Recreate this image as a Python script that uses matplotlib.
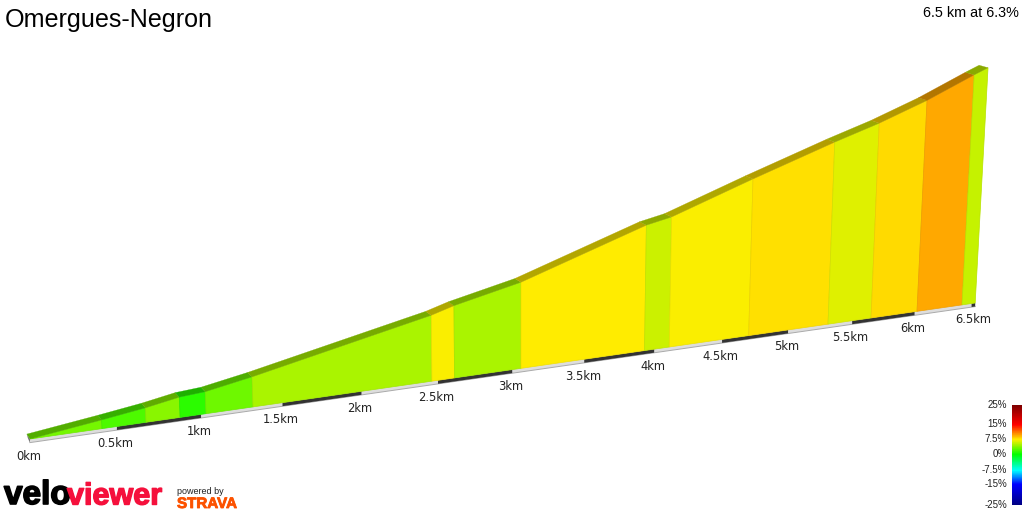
import numpy as np
import matplotlib
matplotlib.use("Agg")
import matplotlib.pyplot as plt
import matplotlib.patheffects as pe
from matplotlib.colors import LinearSegmentedColormap, Normalize
from matplotlib.patches import Polygon

title = "Omergues-Negron"
summary = "6.5 km at 6.3%"
km_edges = [0, .413, .671, .874, 1.03, 1.317, 2.46, 2.61, 3.06, 3.93, 4.11, 4.70, 5.31, 5.65, 6.02, 6.39, 6.5]
elev_m = [0, 15, 25, 35, 38, 52, 114, 125, 149, 217, 225, 271, 315, 337, 365, 398, 407]
grades = [3.4, 2.2, 4.0, 1.2, 3.3, 5.0, 7.3, 5.0, 7.55, 5.9, 7.4, 7.95, 6.5, 8.2, 9.6, 5.8]
km_ticks = [0, .5, 1, 1.5, 2, 2.5, 3, 3.5, 4, 4.5, 5, 5.5, 6, 6.5]
km_labels = ["0km", "0.5km", "1km", "1.5km", "2km", "2.5km", "3km", "3.5km", "4km", "4.5km", "5km", "5.5km", "6km", "6.5km"]
scale_vals = [25, 15, 7.5, 0, -7.5, -15, -25]
scale_labels = ["25%", "15%", "7.5%", "0%", "-7.5%", "-15%", "-25%"]
scale_cols = ["#800000", "#ff0000", "#ffee00", "#00ff00", "#00ffff", "#0000ff", "#000080"]

PX_PER_M = 0.578
def base(d):
    d = np.asarray(d, float)
    x = 30 + 176.7 * d / (1 + .0331 * d)
    return x, 439 - (x - 30) * .1439
def project(d, h):
    x, y = base(d)
    hp = np.asarray(h, float) * PX_PER_M
    return x + 1.2e-4 * hp * (x - 520), y - hp
def back(x, y):
    t = np.asarray(x) / 1000
    return x - 3 - 6 * t, y - 5 + 2.5 * t

order = np.argsort(scale_vals)
sv = np.array(scale_vals)[order]
cmap = LinearSegmentedColormap.from_list("g", [((v + 25) / 50, c) for v, c in zip(sv, np.array(scale_cols)[order])])
norm = Normalize(-25, 25)

fig = plt.figure(figsize=(10.24, 5.12), dpi=100)
ax = fig.add_axes([0, 0, 1, 1])
ax.set_axis_off()

xb, yb = base(km_edges)
xt, yt = project(km_edges, elev_m)
xk, yk = back(xt, yt)

# end cap
ax.add_patch(Polygon([(xk[0], yk[0]), (xt[0], yt[0]), (xb[0], yb[0] + 4), (xk[0] + 1, yk[0] + 4)], fc="#777777", ec="none", zorder=1))

# base strip with alternating dark half-km bands
bx, by = base(np.array(km_edges)[[0, -1]])
ax.add_patch(Polygon([(bx[0], by[0]), (bx[1], by[1]), (bx[1], by[1] + 3.5), (bx[0], by[0] + 3.5)], fc="#dddddd", ec="none", zorder=1))
ax.plot(bx, by + 3.6, color="#aaaaaa", lw=.7, zorder=1)
for a, b in zip(km_ticks[1::2], km_ticks[2::2]):
    x, y = base([a, b])
    ax.add_patch(Polygon([(x[0], y[0]), (x[1], y[1]), (x[1], y[1] + 3.5), (x[0], y[0] + 3.5)], fc="#333333", ec="none", zorder=2))
x, y = base([6.47, 6.5])
ax.add_patch(Polygon([(x[0], y[0]), (x[1], y[1]), (x[1], y[1] + 3.5), (x[0], y[0] + 3.5)], fc="#333333", ec="none", zorder=2))

for i, g in enumerate(grades):
    c = np.array(cmap(norm(g))[:3])
    ax.add_patch(Polygon([(xb[i], yb[i]), (xb[i + 1], yb[i + 1]), (xt[i + 1], yt[i + 1]), (xt[i], yt[i])],
                         fc=c, ec=c * .93, lw=.5, zorder=3))
    ax.add_patch(Polygon([(xt[i], yt[i]), (xt[i + 1], yt[i + 1]), (xk[i + 1], yk[i + 1]), (xk[i], yk[i])],
                         fc=c * .7, ec=c * .7, lw=.2, zorder=3))

kx, ky = base(km_ticks)
for x, y, s in zip(kx, ky, km_labels):
    ax.text(x - 1.5, y + 17, s, ha="center", va="center", fontsize=8.3, family="DejaVu Sans", color="#222222")

sans = "Liberation Sans"
ax.text(5, 20, title, ha="left", va="center", fontsize=18.1, family=sans, color="black")
ax.text(1019, 13, summary, ha="right", va="center", fontsize=10.4, family=sans, color="black")

# colour scale
tick_y = [405, 424, 439, 454, 470, 484, 505]
ys = np.arange(405, 505)
ramp = np.interp(ys, tick_y, scale_vals)[:, None]
ax.imshow(ramp, cmap=cmap, norm=norm, extent=(1012, 1022, 505, 405), aspect="auto", zorder=3, interpolation="nearest")
for y, s in zip(tick_y, scale_labels):
    ax.text(1007, y, s, ha="right", va="center", fontsize=7, family=sans, color="#222222")

ax.text(4, 504, "velo", ha="left", va="baseline", fontsize=24, family=sans, weight="bold", color="black",
        path_effects=[pe.withStroke(linewidth=1.2, foreground="k")])
ax.text(67, 504.5, "viewer", ha="left", va="baseline", fontsize=22, family=sans, weight="bold", color="#f5103c",
        path_effects=[pe.withStroke(linewidth=1, foreground="#f5103c")])
ax.text(177, 492, "powered by", ha="left", va="center", fontsize=6.5, family=sans, color="#222222")
ax.text(177, 504, "STRAVA", ha="left", va="center", fontsize=10.9, family=sans, weight="bold", color="#fc5200",
        path_effects=[pe.withStroke(linewidth=.6, foreground="#fc5200")])

ax.set_xlim(0, 1024)
ax.set_ylim(512, 0)
fig.savefig("out.png", dpi=100)
